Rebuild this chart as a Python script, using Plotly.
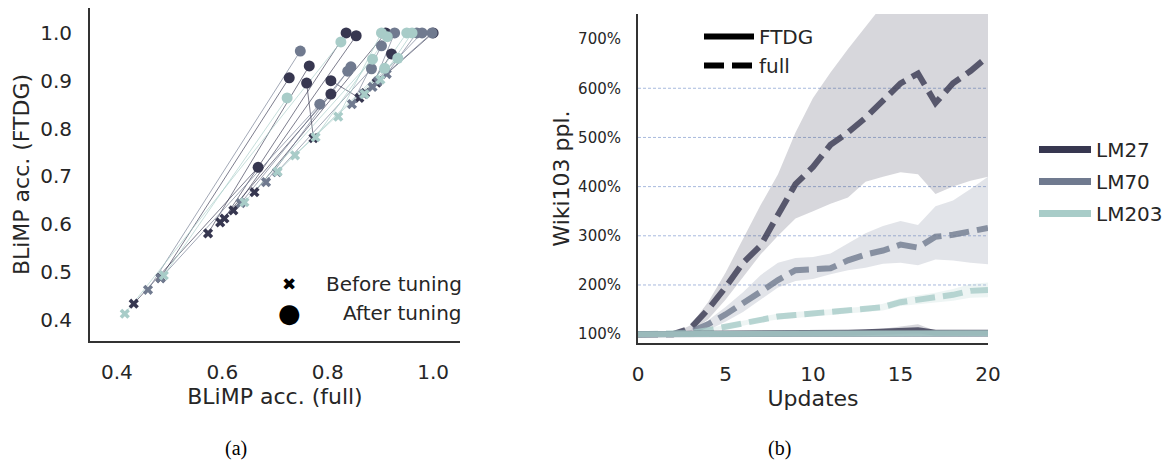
import plotly.graph_objects as go

W, H = 1168, 461

# ---------------- panel (a): BLiMP accuracy before / after tuning ----------------
models = ["LM27", "LM70", "LM203"]
model_colors = {"LM27": (55, 55, 80), "LM70": (112, 122, 143), "LM203": (168, 204, 200)}

lm27_before_full = [0.432, 0.483, 0.573, 0.596, 0.604, 0.621, 0.661, 0.773, 0.860, 0.871, 0.893]
lm27_before_ftdg = [0.434, 0.488, 0.581, 0.604, 0.612, 0.629, 0.667, 0.780, 0.864, 0.874, 0.896]
lm27_after_full = [0.668, 0.727, 0.765, 0.806, 0.835, 0.854, 0.910, 0.760, 0.806, 0.921, 1.000]
lm27_after_ftdg = [0.719, 0.906, 0.931, 0.872, 1.000, 0.994, 1.000, 0.895, 0.900, 0.956, 1.000]

lm70_before_full = [0.459, 0.483, 0.635, 0.683, 0.704, 0.846, 0.885, 0.912, 0.868, 0.895]
lm70_before_ftdg = [0.463, 0.487, 0.644, 0.688, 0.709, 0.851, 0.887, 0.914, 0.872, 0.899]
lm70_after_full = [0.748, 0.785, 0.838, 0.844, 0.883, 0.902, 0.927, 0.969, 0.979, 0.998]
lm70_after_ftdg = [0.962, 0.851, 0.920, 0.929, 0.925, 0.973, 1.000, 1.000, 1.000, 1.000]

lm203_before_full = [0.415, 0.489, 0.642, 0.705, 0.738, 0.777, 0.820, 0.870, 0.900]
lm203_before_ftdg = [0.413, 0.493, 0.646, 0.710, 0.744, 0.782, 0.825, 0.872, 0.902]
lm203_after_full = [0.825, 0.723, 0.885, 0.908, 0.933, 0.913, 0.902, 0.950, 0.960]
lm203_after_ftdg = [0.981, 0.864, 0.945, 0.926, 0.947, 0.992, 1.000, 1.000, 1.000]

scatter_data = {
    "LM27": (lm27_before_full, lm27_before_ftdg, lm27_after_full, lm27_after_ftdg),
    "LM70": (lm70_before_full, lm70_before_ftdg, lm70_after_full, lm70_after_ftdg),
    "LM203": (lm203_before_full, lm203_before_ftdg, lm203_after_full, lm203_after_ftdg),
}

# ---------------- panel (b): Wiki103 perplexity over updates ----------------
updates = list(range(21))

lm27_full = [100, 100, 100, 112, 150, 195, 245, 280, 345, 405, 440, 485, 510, 540, 575, 610, 630, 570, 610, 635, 665]
lm27_full_lo = [100, 100, 100, 105, 130, 170, 215, 262, 300, 335, 350, 365, 378, 410, 420, 429, 425, 385, 400, 412, 420]
lm27_full_hi = [100, 100, 101, 118, 165, 225, 295, 362, 425, 510, 580, 632, 680, 725, 770, 800, 830, 830, 850, 870, 900]

lm70_full = [100, 100, 100, 105, 120, 140, 162, 186, 210, 230, 232, 234, 250, 262, 270, 282, 276, 298, 302, 308, 316]
lm70_full_lo = [100, 100, 100, 100, 108, 125, 145, 170, 195, 208, 212, 222, 230, 235, 243, 245, 240, 252, 250, 245, 242]
lm70_full_hi = [100, 100, 101, 108, 128, 155, 185, 220, 245, 255, 257, 264, 285, 305, 320, 330, 322, 360, 372, 395, 420]

lm203_full = [100, 100, 100, 102, 108, 115, 122, 130, 136, 139, 142, 145, 147, 150, 155, 165, 170, 174, 180, 188, 190]
lm203_full_lo = [99, 99, 99, 100, 105, 111, 117, 125, 130, 133, 136, 139, 141, 144, 148, 157, 161, 164, 168, 174, 175]
lm203_full_hi = [101, 101, 101, 104, 111, 119, 127, 135, 142, 145, 148, 151, 153, 156, 162, 173, 179, 184, 192, 202, 205]

lm27_ftdg = [100, 100, 100, 100, 100, 100, 100, 101, 101, 101, 102, 102, 103, 104, 105, 107, 108, 103, 102, 102, 103]
lm27_ftdg_lo = [97, 98, 98, 98, 98, 98, 98, 98, 98, 98, 99, 99, 99, 99, 100, 100, 100, 99, 98, 98, 98]
lm27_ftdg_hi = [103, 102, 102, 102, 102, 102, 103, 103, 104, 104, 105, 106, 107, 109, 111, 116, 120, 107, 106, 106, 108]

lm70_ftdg = [100, 100, 99, 99, 99, 99, 99, 100, 100, 100, 100, 100, 100, 101, 101, 101, 101, 101, 101, 101, 101]
lm70_ftdg_lo = [98, 98, 97, 97, 97, 97, 97, 98, 98, 98, 98, 98, 98, 98, 98, 98, 98, 98, 98, 98, 98]
lm70_ftdg_hi = [102, 102, 101, 101, 101, 101, 101, 102, 102, 102, 102, 102, 102, 104, 104, 104, 104, 104, 104, 104, 104]

lm203_ftdg = [100, 100, 100, 100, 100, 100, 100, 100, 100, 100, 101, 101, 101, 101, 101, 101, 101, 101, 102, 102, 102]
lm203_ftdg_lo = [98, 98, 98, 98, 98, 98, 98, 98, 98, 98, 99, 99, 99, 99, 99, 99, 99, 99, 99, 99, 99]
lm203_ftdg_hi = [102, 102, 102, 102, 102, 102, 102, 102, 102, 102, 103, 103, 103, 103, 103, 103, 103, 103, 104, 104, 104]

ppl_series = {
    "LM27": {"full": (lm27_full, lm27_full_lo, lm27_full_hi), "FTDG": (lm27_ftdg, lm27_ftdg_lo, lm27_ftdg_hi)},
    "LM70": {"full": (lm70_full, lm70_full_lo, lm70_full_hi), "FTDG": (lm70_ftdg, lm70_ftdg_lo, lm70_ftdg_hi)},
    "LM203": {"full": (lm203_full, lm203_full_lo, lm203_full_hi), "FTDG": (lm203_ftdg, lm203_ftdg_lo, lm203_ftdg_hi)},
}
ppl_ticks = [100, 200, 300, 400, 500, 600, 700]
grid_levels = [200, 300, 400, 500, 600]


def rgba(c, a):
    return f"rgba({c[0]},{c[1]},{c[2]},{a})"


def px_x(p):
    return p / W


def px_y(p):
    return 1 - p / H


TEXT = "#262626"
FONT = "DejaVu Sans"
DASH = "20px,8px"

fig = go.Figure()

# connector segments, then before (x) and after (o) markers
for m in models:
    bx, by, ax_, ay = scatter_data[m]
    seg_x, seg_y = [], []
    for i in range(len(bx)):
        seg_x += [bx[i], ax_[i], None]
        seg_y += [by[i], ay[i], None]
    fig.add_trace(go.Scatter(x=seg_x, y=seg_y, mode="lines", xaxis="x", yaxis="y",
                             line=dict(color=rgba(model_colors[m], 0.65), width=1),
                             showlegend=False, hoverinfo="skip"))
for m in models:
    bx, by, ax_, ay = scatter_data[m]
    fig.add_trace(go.Scatter(x=bx, y=by, mode="markers", xaxis="x", yaxis="y",
                             marker=dict(symbol="x", size=9, color=rgba(model_colors[m], 1),
                                         line=dict(width=0)),
                             showlegend=False))
for m in models:
    bx, by, ax_, ay = scatter_data[m]
    fig.add_trace(go.Scatter(x=ax_, y=ay, mode="markers", xaxis="x", yaxis="y",
                             marker=dict(symbol="circle", size=11, color=rgba(model_colors[m], 1),
                                         line=dict(width=0)),
                             showlegend=False))

# confidence bands
for style in ["full", "FTDG"]:
    for m in models:
        mean, lo, hi = ppl_series[m][style]
        fig.add_trace(go.Scatter(x=updates, y=lo, mode="lines", xaxis="x2", yaxis="y2",
                                 line=dict(width=0), showlegend=False, hoverinfo="skip"))
        fig.add_trace(go.Scatter(x=updates, y=hi, mode="lines", xaxis="x2", yaxis="y2",
                                 line=dict(width=0), fill="tonexty",
                                 fillcolor=rgba(model_colors[m], 0.2),
                                 showlegend=False, hoverinfo="skip"))

# mean curves
for style in ["full", "FTDG"]:
    for m in models:
        mean = ppl_series[m][style][0]
        fig.add_trace(go.Scatter(x=updates, y=mean, mode="lines", xaxis="x2", yaxis="y2",
                                 line=dict(color=rgba(model_colors[m], 0.8), width=6,
                                           dash=DASH if style == "full" else "solid"),
                                 showlegend=False))

# legend entries: model colours
for i, m in enumerate(models):
    fig.add_trace(go.Scatter(x=[None], y=[None], mode="lines", xaxis="x2", yaxis="y2",
                             name=m, legend="legend", legendgroup=m,
                             line=dict(color=rgba(model_colors[m], 1), width=7)))
# legend entries: line style
fig.add_trace(go.Scatter(x=[None], y=[None], mode="lines", xaxis="x2", yaxis="y2",
                         name="FTDG", legend="legend2", line=dict(color="black", width=6)))
fig.add_trace(go.Scatter(x=[None], y=[None], mode="lines", xaxis="x2", yaxis="y2",
                         name="full", legend="legend2", line=dict(color="black", width=6, dash=DASH)))

# light dashed guide lines on panel (b)
for g in grid_levels:
    fig.add_shape(type="line", xref="x2 domain", yref="y2", x0=0, x1=1, y0=g, y1=g,
                  line=dict(color="rgba(110,140,200,0.6)", width=1, dash="3px,2px"), layer="below")

axis_common = dict(showline=True, linecolor="#333333", linewidth=2, showgrid=False, zeroline=False,
                   ticks="outside", ticklen=12, tickcolor="rgba(0,0,0,0)",
                   tickfont=dict(family=FONT, size=20, color=TEXT))

fig.update_layout(
    width=W, height=H, margin=dict(l=0, r=0, t=0, b=0, autoexpand=False),
    plot_bgcolor="white", paper_bgcolor="white",
    font=dict(family=FONT, color=TEXT),
    xaxis=dict(domain=[px_x(90), px_x(460)], range=[0.349, 1.051], anchor="y",
               tickvals=[0.4, 0.6, 0.8, 1.0], ticktext=["0.4", "0.6", "0.8", "1.0"],
               title=dict(text="BLiMP acc. (full)", standoff=1, font=dict(size=22, color=TEXT)),
               **axis_common),
    yaxis=dict(domain=[px_y(341), px_y(8)], range=[0.356, 1.052], anchor="x",
               tickvals=[0.4, 0.5, 0.6, 0.7, 0.8, 0.9, 1.0],
               ticktext=["0.4", "0.5", "0.6", "0.7", "0.8", "0.9", "1.0"],
               title=dict(text="BLiMP acc. (FTDG)", standoff=4, font=dict(size=22, color=TEXT)),
               **axis_common),
    xaxis2=dict(domain=[px_x(638), px_x(988)], range=[0, 20], anchor="y2",
                tickvals=[0, 5, 10, 15, 20],
                title=dict(text="Updates", standoff=1, font=dict(size=22, color=TEXT)),
                **axis_common),
    yaxis2=dict(domain=[px_y(343), px_y(14)], range=[82, 751], anchor="x2",
                tickvals=ppl_ticks, ticktext=[f"{v}%" for v in ppl_ticks],
                title=dict(text="Wiki103 ppl.", standoff=2, font=dict(size=22, color=TEXT)),
                **{**axis_common, "tickfont": dict(family=FONT, size=15, color=TEXT)}),
    legend=dict(x=1.0, y=px_y(130), xanchor="right", yanchor="top",
                font=dict(family=FONT, size=20, color=TEXT), bgcolor="rgba(0,0,0,0)",
                tracegroupgap=3, itemwidth=52),
    legend2=dict(x=px_x(699), y=px_y(17), xanchor="left", yanchor="top",
                 font=dict(family=FONT, size=20, color=TEXT), bgcolor="rgba(0,0,0,0)",
                 itemwidth=50),
    showlegend=True,
)

# marker key for panel (a)
fig.add_annotation(x=px_x(289), y=px_y(284), xref="paper", yref="paper", text="✖", showarrow=False,
                   font=dict(family=FONT, size=17, color="black"), xanchor="center", yanchor="middle")
fig.add_annotation(x=px_x(289), y=px_y(313), xref="paper", yref="paper", text="●", showarrow=False,
                   font=dict(family=FONT, size=26, color="black"), xanchor="center", yanchor="middle")
fig.add_annotation(x=px_x(464), y=px_y(284), xref="paper", yref="paper", text="Before tuning",
                   showarrow=False, font=dict(family=FONT, size=20, color=TEXT),
                   xanchor="right", yanchor="middle")
fig.add_annotation(x=px_x(464), y=px_y(313), xref="paper", yref="paper", text="After tuning",
                   showarrow=False, font=dict(family=FONT, size=20, color=TEXT),
                   xanchor="right", yanchor="middle")

# sub-figure captions
for cx, cap in [(236, "(a)"), (779, "(b)")]:
    fig.add_annotation(x=px_x(cx), y=px_y(448), xref="paper", yref="paper", text=cap, showarrow=False,
                       font=dict(family="Liberation Serif", size=20, color="black"),
                       xanchor="center", yanchor="middle")

fig.write_html("out.html")
